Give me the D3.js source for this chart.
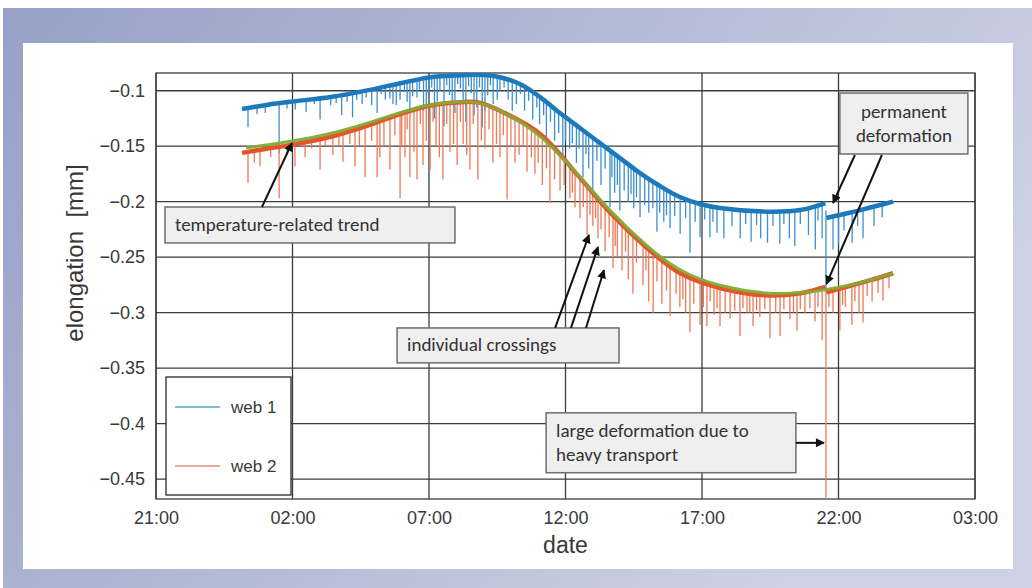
<!DOCTYPE html>
<html>
<head>
<meta charset="utf-8">
<script src="https://cdn.jsdelivr.net/npm/d3@7"></script>
<style>
  html, body { margin: 0; padding: 0; background: #fff; }
  svg { display: block; }
</style>
</head>
<body>
<div id="chart"></div>
<script>
// Time is given in hours after 21:00 of the first day.
const tickHours = [0, 5, 10, 15, 20, 25, 30];
const yTicks = [-0.45, -0.4, -0.35, -0.3, -0.25, -0.2, -0.15, -0.1];

// Series baselines [hour, elongation mm], split at the permanent deformation
const web1Before = [
  [3.15, -0.1165], [4.0, -0.1130], [4.9, -0.1100], [6.4, -0.1057], [7.8, -0.0994],
  [9.0, -0.0930], [10.0, -0.0880], [11.0, -0.0862], [12.0, -0.0858], [12.6, -0.0878],
  [13.33, -0.0940], [14.07, -0.1057], [14.8, -0.1201], [15.53, -0.1336], [16.26, -0.1471],
  [17.0, -0.1607], [17.73, -0.1742], [18.46, -0.1859], [19.19, -0.1958], [19.93, -0.2021],
  [20.66, -0.2057], [22.4, -0.2090], [23.6, -0.2075], [24.52, -0.2012]
];
const web1After = [[24.56, -0.2147], [25.4, -0.2100], [26.2, -0.2050], [27.0, -0.2000]];
const web2Before = [
  [3.15, -0.1560], [4.0, -0.1525], [4.9, -0.1490], [6.4, -0.1415], [7.8, -0.1310],
  [9.0, -0.1205], [10.0, -0.1135], [11.0, -0.1105], [11.8, -0.1105], [12.6, -0.1180],
  [14.07, -0.1390], [15.53, -0.1785], [16.74, -0.2125], [18.0, -0.2420], [19.2, -0.2645],
  [20.7, -0.2780], [22.4, -0.2845], [23.6, -0.2825], [24.52, -0.2768]
];
const web2After = [[24.56, -0.2818], [25.4, -0.2760], [26.2, -0.2705], [27.0, -0.2645]];
const trendLine = [
  [3.3, -0.1515], [4.0, -0.1490], [4.9, -0.1460], [6.4, -0.1390], [7.8, -0.1290],
  [9.0, -0.1190], [10.0, -0.1125], [11.0, -0.1095], [11.8, -0.1098], [12.6, -0.1170],
  [14.07, -0.1380], [15.53, -0.1775], [16.74, -0.2115], [18.0, -0.2410], [19.2, -0.2635],
  [20.7, -0.2770], [22.4, -0.2835], [23.6, -0.2825], [24.5, -0.2795], [25.4, -0.2755],
  [26.2, -0.2705], [27.0, -0.2645]
];

// Individual crossings: [hour, lowest value of the dip]
const web1Spikes = [
  [3.37, -0.133], [3.70, -0.121], [4.00, -0.120], [4.51, -0.156], [4.80, -0.116],
  [5.10, -0.117], [5.50, -0.119], [5.80, -0.112], [6.01, -0.126], [6.40, -0.113],
  [6.60, -0.111], [6.80, -0.122], [7.00, -0.110], [7.20, -0.124], [7.35, -0.108],
  [7.55, -0.112], [7.70, -0.106], [7.90, -0.113], [8.10, -0.120], [8.25, -0.103],
  [8.40, -0.108], [8.57, -0.107], [8.68, -0.112], [8.80, -0.113], [8.94, -0.108],
  [9.10, -0.101], [9.20, -0.110], [9.30, -0.118], [9.40, -0.105], [9.56, -0.106],
  [9.65, -0.099], [9.80, -0.118], [9.90, -0.112], [10.00, -0.103], [10.10, -0.097],
  [10.20, -0.125], [10.30, -0.110], [10.40, -0.100], [10.55, -0.132], [10.65, -0.095],
  [10.75, -0.104], [10.85, -0.112], [10.95, -0.120], [11.05, -0.094], [11.15, -0.098],
  [11.25, -0.108], [11.35, -0.128], [11.45, -0.096], [11.55, -0.102], [11.65, -0.122],
  [11.75, -0.115], [11.85, -0.097], [11.95, -0.133], [12.05, -0.118], [12.15, -0.104],
  [12.25, -0.095], [12.35, -0.112], [12.50, -0.108], [12.60, -0.100], [12.75, -0.097],
  [12.90, -0.108], [13.05, -0.118], [13.20, -0.112], [13.35, -0.103], [13.50, -0.118],
  [13.65, -0.109], [13.80, -0.126], [13.95, -0.115], [14.05, -0.130], [14.20, -0.122],
  [14.30, -0.147], [14.45, -0.128], [14.60, -0.145], [14.75, -0.138], [14.90, -0.160],
  [15.00, -0.145], [15.15, -0.152], [15.25, -0.147], [15.40, -0.165], [15.50, -0.152],
  [15.64, -0.178], [15.75, -0.157], [15.85, -0.170], [16.00, -0.196], [16.15, -0.163],
  [16.30, -0.185], [16.45, -0.170], [16.63, -0.205], [16.70, -0.178], [16.80, -0.192],
  [16.90, -0.185], [16.99, -0.208], [17.15, -0.190], [17.30, -0.200], [17.40, -0.193],
  [17.50, -0.206], [17.60, -0.196], [17.73, -0.214], [17.90, -0.203], [18.05, -0.210],
  [18.20, -0.206], [18.35, -0.227], [18.45, -0.210], [18.60, -0.218], [18.70, -0.212],
  [18.83, -0.224], [19.00, -0.213], [19.20, -0.229], [19.40, -0.215], [19.56, -0.246],
  [19.75, -0.218], [19.93, -0.232], [20.10, -0.216], [20.29, -0.232], [20.40, -0.218],
  [20.55, -0.228], [20.80, -0.233], [21.10, -0.222], [21.40, -0.233], [21.60, -0.220],
  [21.80, -0.236], [22.00, -0.221], [22.15, -0.233], [22.40, -0.237], [22.60, -0.222],
  [22.85, -0.238], [23.00, -0.220], [23.20, -0.233], [23.40, -0.240], [23.60, -0.220],
  [23.90, -0.230], [24.15, -0.243], [24.25, -0.217], [24.40, -0.233], [24.54, -0.282],
  [24.80, -0.243], [25.00, -0.238], [25.20, -0.226], [25.50, -0.237], [25.70, -0.222],
  [25.90, -0.233], [26.30, -0.222], [26.60, -0.214]
];
const web2Spikes = [
  [3.37, -0.183], [3.60, -0.165], [3.81, -0.168], [4.20, -0.160], [4.51, -0.197],
  [4.80, -0.158], [5.09, -0.168], [5.46, -0.160], [5.70, -0.152], [6.01, -0.171],
  [6.20, -0.150], [6.48, -0.158], [6.70, -0.150], [6.85, -0.164], [7.10, -0.148],
  [7.29, -0.168], [7.45, -0.150], [7.66, -0.178], [7.90, -0.145], [8.10, -0.178],
  [8.20, -0.160], [8.35, -0.150], [8.57, -0.171], [8.75, -0.140], [8.94, -0.197],
  [9.00, -0.150], [9.12, -0.160], [9.20, -0.135], [9.30, -0.178], [9.45, -0.155],
  [9.56, -0.180], [9.68, -0.130], [9.78, -0.167], [9.90, -0.145], [10.04, -0.171],
  [10.15, -0.128], [10.26, -0.150], [10.38, -0.160], [10.51, -0.180], [10.65, -0.130],
  [10.77, -0.155], [10.90, -0.148], [11.03, -0.167], [11.15, -0.128], [11.25, -0.148],
  [11.38, -0.158], [11.50, -0.171], [11.62, -0.130], [11.79, -0.180], [11.92, -0.145],
  [12.05, -0.152], [12.20, -0.135], [12.34, -0.165], [12.47, -0.148], [12.60, -0.160],
  [12.72, -0.140], [12.86, -0.198], [13.00, -0.150], [13.15, -0.165], [13.30, -0.158],
  [13.45, -0.150], [13.59, -0.173], [13.75, -0.160], [13.88, -0.175], [14.00, -0.165],
  [14.15, -0.185], [14.30, -0.170], [14.43, -0.201], [14.60, -0.180], [14.80, -0.190],
  [14.95, -0.185], [15.16, -0.197], [15.25, -0.192], [15.35, -0.205], [15.53, -0.215],
  [15.65, -0.205], [15.79, -0.230], [15.90, -0.212], [16.00, -0.222], [16.10, -0.215],
  [16.19, -0.233], [16.30, -0.225], [16.45, -0.245], [16.60, -0.232], [16.74, -0.260],
  [16.82, -0.240], [16.90, -0.250], [17.07, -0.262], [17.20, -0.245], [17.30, -0.270],
  [17.47, -0.283], [17.60, -0.255], [17.84, -0.275], [17.95, -0.262], [18.05, -0.290],
  [18.21, -0.300], [18.35, -0.272], [18.53, -0.292], [18.70, -0.280], [18.83, -0.303],
  [19.05, -0.283], [19.19, -0.295], [19.30, -0.288], [19.40, -0.300], [19.56, -0.318],
  [19.70, -0.292], [19.93, -0.311], [20.05, -0.295], [20.18, -0.312], [20.30, -0.290],
  [20.44, -0.302], [20.55, -0.296], [20.66, -0.312], [20.85, -0.300], [21.03, -0.305],
  [21.20, -0.298], [21.39, -0.321], [21.50, -0.296], [21.65, -0.300], [21.75, -0.300],
  [21.87, -0.312], [22.00, -0.298], [22.12, -0.304], [22.30, -0.297], [22.49, -0.323],
  [22.70, -0.300], [22.86, -0.321], [23.00, -0.297], [23.22, -0.306], [23.35, -0.300],
  [23.48, -0.316], [23.60, -0.297], [23.77, -0.300], [23.95, -0.296], [24.14, -0.308],
  [24.25, -0.295], [24.40, -0.325], [24.54, -0.600], [24.65, -0.295], [24.80, -0.300],
  [25.05, -0.316], [25.15, -0.293], [25.25, -0.295], [25.49, -0.311], [25.60, -0.290],
  [25.75, -0.300], [25.90, -0.309], [26.05, -0.285], [26.23, -0.290], [26.45, -0.282],
  [26.63, -0.289], [26.85, -0.278]
];

const legendItems = ["web 1", "web 2"];

// Callouts, in data units (hours, mm)
const notes = [
  { lines: ["temperature-related trend"], box: [0.33, 10.95, -0.2048, -0.2372], anchor: "start" },
  { lines: ["permanent", "deformation"], box: [25.05, 29.74, -0.1021, -0.1570], anchor: "middle" },
  { lines: ["individual crossings"], box: [8.83, 16.96, -0.3138, -0.3453], anchor: "start" },
  { lines: ["large deformation due to", "heavy transport"], box: [14.29, 23.44, -0.3903, -0.4443], anchor: "start" }
];
const arrows = [
  [3.88, -0.2048, 4.98, -0.1471],
  [25.60, -0.1579, 24.80, -0.2012],
  [26.59, -0.1579, 24.56, -0.2742],
  [14.62, -0.3138, 15.86, -0.2300],
  [15.20, -0.3138, 16.19, -0.2408],
  [15.75, -0.3138, 16.41, -0.2616],
  [23.44, -0.4174, 24.47, -0.4174]
];

const width = 1032, height = 588;
const plot = { left: 156, right: 975, top: 73, bottom: 499 };
const colors = { web1: "#1c79bb", web2: "#e5552a", trend: "#80ad36", grid: "#3c3c3c" };
const axisFont = "Liberation Sans, Arial, sans-serif";

const t0 = new Date(2021, 5, 1, 21, 0);
const toDate = (h) => new Date(t0.getTime() + h * 3600e3);

const x = d3.scaleTime().domain([toDate(0), toDate(30)]).range([plot.left, plot.right]);
const y = d3.scaleLinear().domain([-0.468, -0.084]).range([plot.bottom, plot.top]);

const svg = d3.select("#chart").append("svg")
  .attr("width", width).attr("height", height);

// Slide background
const defs = svg.append("defs");
const grad = defs.append("linearGradient").attr("id", "bg")
  .attr("x1", 0).attr("y1", 0).attr("x2", 1).attr("y2", 0.4);
grad.append("stop").attr("offset", 0).attr("stop-color", "#97a1c6");
grad.append("stop").attr("offset", 1).attr("stop-color", "#cdd1e3");
defs.append("clipPath").attr("id", "clip").append("rect")
  .attr("x", plot.left).attr("y", plot.top)
  .attr("width", plot.right - plot.left).attr("height", plot.bottom - plot.top);
const marker = defs.append("marker").attr("id", "head")
  .attr("viewBox", "0 0 10 10").attr("refX", 9).attr("refY", 5)
  .attr("markerUnits", "userSpaceOnUse").attr("markerWidth", 10).attr("markerHeight", 9)
  .attr("orient", "auto");
marker.append("path").attr("d", "M0,0L10,5L0,10Z").attr("fill", "#111");

svg.append("rect").attr("width", width).attr("height", height).attr("fill", "#fff");
svg.append("rect").attr("x", 3).attr("y", 8).attr("width", width - 3).attr("height", height - 8)
  .attr("fill", "url(#bg)");
svg.append("rect").attr("x", 23).attr("y", 43).attr("width", 990).attr("height", 526)
  .attr("fill", "#fff");

// Grid
const grid = svg.append("g");
grid.selectAll(".vx").data(tickHours).join("line")
  .attr("x1", (d) => x(toDate(d))).attr("x2", (d) => x(toDate(d)))
  .attr("y1", plot.top).attr("y2", plot.bottom)
  .attr("stroke", colors.grid).attr("stroke-width", 1.3);
grid.selectAll(".hy").data(yTicks).join("line")
  .attr("y1", (d) => y(d)).attr("y2", (d) => y(d))
  .attr("x1", plot.left).attr("x2", plot.right)
  .attr("stroke", colors.grid).attr("stroke-width", 1.3);
grid.append("rect")
  .attr("x", plot.left).attr("y", plot.top)
  .attr("width", plot.right - plot.left).attr("height", plot.bottom - plot.top)
  .attr("fill", "none").attr("stroke", colors.grid).attr("stroke-width", 1.3);

// Axes (labels only)
const xAxis = svg.append("g").attr("transform", `translate(0,${plot.bottom})`)
  .call(d3.axisBottom(x).tickValues(tickHours.map(toDate)).tickFormat(d3.timeFormat("%H:%M"))
    .tickSize(0).tickPadding(12));
const yAxis = svg.append("g").attr("transform", `translate(${plot.left},0)`)
  .call(d3.axisLeft(y).tickValues(yTicks).tickFormat(d3.format("~g"))
    .tickSize(0).tickPadding(11));
[xAxis, yAxis].forEach((g) => {
  g.select(".domain").remove();
  g.selectAll("text").attr("font-family", axisFont)
    .attr("font-size", 18).attr("fill", "#383838");
});

svg.append("text")
  .attr("transform", "translate(75,253) rotate(-90)")
  .attr("text-anchor", "middle").attr("dy", "0.35em")
  .attr("font-family", axisFont).attr("font-size", 24)
  .attr("fill", "#383838").attr("xml:space", "preserve")
  .text("elongation  [mm]");
svg.append("text")
  .attr("x", (plot.left + plot.right) / 2).attr("y", 553)
  .attr("text-anchor", "middle")
  .attr("font-family", axisFont).attr("font-size", 23)
  .attr("fill", "#383838").text("date");

// Data
function baseAt(knots, h) {
  const i = d3.bisector((d) => d[0]).left(knots, h);
  if (i <= 0) return knots[0][1];
  if (i >= knots.length) return knots[knots.length - 1][1];
  const a = knots[i - 1], b = knots[i];
  return a[1] + ((b[1] - a[1]) * (h - a[0])) / (b[0] - a[0]);
}

const line = d3.line()
  .x((d) => x(toDate(d[0])))
  .y((d) => y(d[1]))
  .curve(d3.curveCatmullRom.alpha(0.5));

const data = svg.append("g").attr("clip-path", "url(#clip)");

function drawSeries(parts, spikes, color, spikeColor, lw) {
  const knots = parts.flat();
  data.append("g").selectAll("line").data(spikes).join("line")
    .attr("x1", (d) => x(toDate(d[0]))).attr("x2", (d) => x(toDate(d[0])))
    .attr("y1", (d) => y(baseAt(knots, d[0])))
    .attr("y2", (d) => y(d[1]))
    .attr("stroke", spikeColor).attr("stroke-width", 1.3);
  data.append("g").selectAll("path").data(parts).join("path")
    .attr("d", line).attr("fill", "none")
    .attr("stroke", color).attr("stroke-width", lw).attr("stroke-linejoin", "round");
}

drawSeries([web1Before, web1After], web1Spikes, colors.web1, "#3a8fd0", 4.5);
drawSeries([web2Before, web2After], web2Spikes, colors.web2, "#ee7855", 4.5);

data.append("path").datum(trendLine)
  .attr("d", line.curve(d3.curveBasis)).attr("fill", "none")
  .attr("stroke", colors.trend).attr("stroke-width", 3).attr("opacity", 0.95);

// Legend
const legend = svg.append("g");
legend.append("rect").attr("x", plot.left + 10).attr("y", 377)
  .attr("width", 125).attr("height", 118)
  .attr("fill", "#fff").attr("stroke", "#2a2a2a").attr("stroke-width", 1.3);
const legendColors = ["#4ea7d2", "#e38f7c"];
legendItems.forEach((name, i) => {
  const ly = 407 + i * 59;
  legend.append("line").attr("x1", plot.left + 19).attr("x2", plot.left + 64)
    .attr("y1", ly).attr("y2", ly)
    .attr("stroke", legendColors[i]).attr("stroke-width", 1.6);
  legend.append("text").attr("x", plot.left + 75).attr("y", ly).attr("dy", "0.35em")
    .attr("font-family", axisFont).attr("font-size", 17)
    .attr("fill", "#383838").text(name);
});

// Callouts
const callouts = svg.append("g");
notes.forEach((n) => {
  const x0 = x(toDate(n.box[0])), x1 = x(toDate(n.box[1]));
  const y0 = y(n.box[2]), y1 = y(n.box[3]);
  callouts.append("rect").attr("x", x0).attr("y", y0)
    .attr("width", x1 - x0).attr("height", y1 - y0)
    .attr("fill", "#efefef").attr("stroke", "#6e6e6e").attr("stroke-width", 1.5);
  const mid = (y0 + y1) / 2;
  n.lines.forEach((t, i) => {
    callouts.append("text")
      .attr("x", n.anchor === "middle" ? (x0 + x1) / 2 : x0 + 10)
      .attr("y", mid + (i - (n.lines.length - 1) / 2) * 24 + 6)
      .attr("text-anchor", n.anchor)
      .attr("font-family", "Carlito, Calibri, Lato, sans-serif").attr("font-size", 19)
      .attr("fill", "#333").text(t);
  });
});
callouts.selectAll(".arrow").data(arrows).join("line")
  .attr("x1", (d) => x(toDate(d[0]))).attr("y1", (d) => y(d[1]))
  .attr("x2", (d) => x(toDate(d[2]))).attr("y2", (d) => y(d[3]))
  .attr("stroke", "#111").attr("stroke-width", 2)
  .attr("marker-end", "url(#head)");
</script>
</body>
</html>
